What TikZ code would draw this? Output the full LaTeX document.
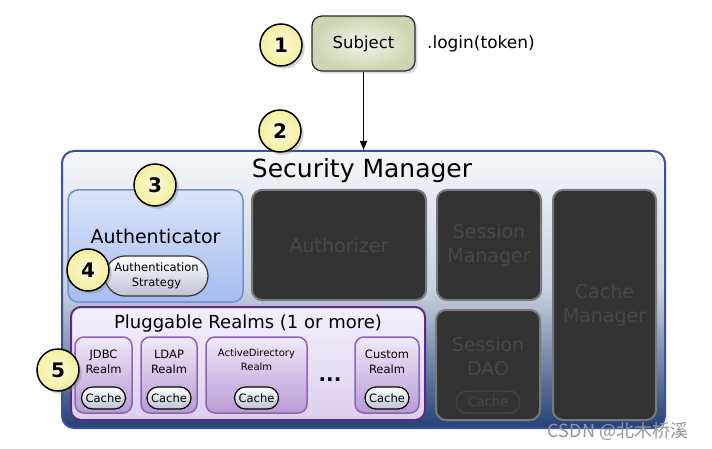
\documentclass[tikz,border=0pt]{standalone}
\usepackage{fontspec}
\setmainfont{DejaVu Sans}
\newfontfamily\cjkfont{Noto Sans CJK SC}
\usepackage{tikz}
\usetikzlibrary{arrows.meta,positioning,shadows}
\definecolor{numyellow}{RGB}{245,239,160}
\definecolor{numin}{RGB}{252,250,215}
\definecolor{subjin}{RGB}{242,245,232}
\definecolor{subjout}{RGB}{204,213,178}
\definecolor{smborder}{RGB}{61,79,159}
\definecolor{smtop}{RGB}{246,247,251}
\definecolor{smmid}{RGB}{200,209,223}
\definecolor{smbottom}{RGB}{34,66,118}
\definecolor{authtop}{RGB}{218,229,250}
\definecolor{authbottom}{RGB}{165,188,238}
\definecolor{authborder}{RGB}{112,143,214}
\definecolor{darkfill}{RGB}{51,51,51}
\definecolor{darkedge}{RGB}{122,122,122}
\definecolor{darktext}{RGB}{72,72,72}
\definecolor{realmborder}{RGB}{92,42,134}
\definecolor{realmtop}{RGB}{244,239,251}
\definecolor{realmbottom}{RGB}{220,207,239}
\definecolor{subrealmborder}{RGB}{140,100,180}
\definecolor{subrealmtop}{RGB}{241,233,248}
\definecolor{subrealmbottom}{RGB}{184,154,214}
\definecolor{pillbottom}{RGB}{190,194,210}
\definecolor{markgray}{RGB}{150,150,150}

\begin{document}
\begin{tikzpicture}[x=1pt, y=-1pt,
        num/.style={circle, draw=black, line width=1.5pt, inner color=numin, outer color=numyellow, minimum size=42pt, inner sep=0pt, font=\fontsize{20}{20}\selectfont\bfseries, drop shadow={opacity=0.35}},
        darkbox/.style={draw=darkedge, line width=2pt, fill=darkfill, rounded corners=10pt, align=center, text=darktext, font=\fontsize{19}{24}\selectfont},
        realm/.style={draw=subrealmborder, line width=1.5pt, top color=subrealmtop, bottom color=subrealmbottom, rounded corners=9pt, minimum height=76pt},
        realmtext/.style={align=center, font=\fontsize{11.5}{15}\selectfont},
        cache/.style={draw=black, line width=1.2pt, top color=white, bottom color=pillbottom, rounded corners=11pt, minimum width=44pt, minimum height=22pt, inner sep=0pt, font=\fontsize{11.5}{12}\selectfont},
        arrow/.style={-{Triangle[length=9pt, width=7pt]}, line width=1pt}
    ]
        \useasboundingbox (0,0) rectangle (712,449);

        % Subject
        \node[draw=black!85, line width=1.2pt, rounded corners=10pt, inner color=subjin, outer color=subjout, minimum width=103pt, minimum height=55pt, font=\fontsize{16.5}{20}\selectfont, drop shadow={opacity=0.25}] (subject) at (363.5,43.5) {Subject};
        \node[font=\fontsize{17}{20}\selectfont, right=8pt of subject] (login) {.login(token)};

        % Security Manager
        \node[draw=smborder, line width=2pt, rounded corners=12pt, top color=smtop, bottom color=smbottom, middle color=smmid, minimum width=603pt, minimum height=277pt] (sm) at (363.5,289.5) {};
        \node[font=\fontsize{25}{28}\selectfont] (smtitle) at (362,171) {Security Manager};

        \draw[arrow] (subject) -- (subject |- sm.north);

        % Authenticator
        \node[draw=authborder, line width=1.5pt, rounded corners=10pt, top color=authtop, bottom color=authbottom, minimum width=175pt, minimum height=112pt] (auth) at (155.5,246) {};
        \node[font=\fontsize{19}{22}\selectfont] (authtitle) at (155.5,236) {Authenticator};
        \node[draw=black!80, line width=1.2pt, rounded corners=20pt, top color=white, bottom color=pillbottom, minimum width=103pt, minimum height=40pt, inner sep=0pt, align=center, font=\fontsize{11.5}{15}\selectfont] (strategy) at (156.5,276) {Authentication\\Strategy};

        % Dark components
        \node[darkbox, minimum width=174pt, minimum height=110pt] (authz) at (339,245) {Authorizer};
        \node[darkbox, minimum width=104pt, minimum height=110pt] (sessmgr) at (489,245) {Session\\Manager};
        \node[darkbox, minimum width=103pt, minimum height=230pt] (cachemgr) at (604.5,305) {Cache\\Manager};
        \node[darkbox, minimum width=104pt, minimum height=110pt] (dao) at (488,365) {};
        \node[align=center, text=darktext, font=\fontsize{19}{24}\selectfont] (daotext) at (488,356) {Session\\DAO};
        \node[draw=darktext, line width=1pt, rounded corners=11pt, minimum width=64pt, minimum height=22pt, inner sep=0pt, text=darktext, font=\fontsize{13}{14}\selectfont] (daocache) at (488,402) {Cache};

        % Pluggable Realms
        \node[draw=realmborder, line width=2pt, rounded corners=10pt, top color=realmtop, bottom color=realmbottom, minimum width=354pt, minimum height=113pt] (realms) at (248,363.5) {};
        \node[font=\fontsize{18}{20}\selectfont] (realmstitle) at (248,324) {Pluggable Realms (1 or more)};

        \node[realm, minimum width=57pt] (jdbc) at (103.5,375) {};
        \node[realm, minimum width=56pt] (ldap) at (169,375) {};
        \node[realm, minimum width=101pt] (ad) at (256.5,375) {};
        \node[realm, minimum width=64pt] (custom) at (387,375) {};
        \node[font=\fontsize{20}{20}\selectfont\bfseries] (dots) at (330,380) {...};

        \node[realmtext] at (103.5,362) {JDBC\\Realm};
        \node[realmtext] at (169,362) {LDAP\\Realm};
        \node[realmtext, font=\fontsize{10}{14}\selectfont] at (256.5,360) {ActiveDirectory\\Realm};
        \node[realmtext] at (387,362) {Custom\\Realm};

        \node[cache] (jdbccache) at (103.5,398) {Cache};
        \node[cache] (ldapcache) at (169,398) {Cache};
        \node[cache] (adcache) at (256.5,398) {Cache};
        \node[cache] (customcache) at (387,398) {Cache};

        % Numbers
        \node[num] (n1) at (281,45) {1};
        \node[num] (n2) at (280,131) {2};
        \node[num] (n3) at (155,185) {3};
        \node[num] (n4) at (88,270) {4};
        \node[num] (n5) at (58,370) {5};

        % Watermark
        \node[text=markgray, font=\cjkfont\fontsize{18}{19}\selectfont] (mark) at (618,431) {CSDN @北木桥溪};
    \end{tikzpicture}
\end{document}
